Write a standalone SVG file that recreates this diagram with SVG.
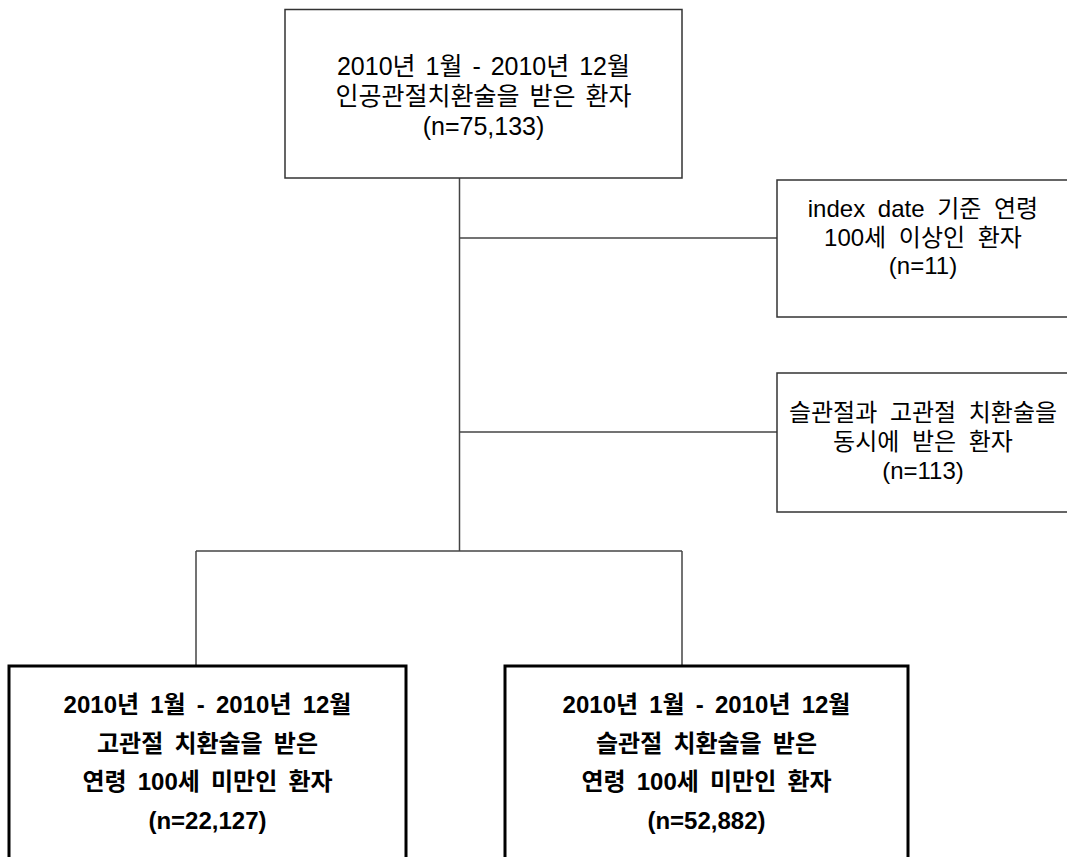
<svg xmlns="http://www.w3.org/2000/svg" width="1067" height="857" viewBox="0 0 1067 857">
<style>
.box{fill:#fff;stroke:#333;stroke-width:1.5}
.bold{fill:#fff;stroke:#000;stroke-width:3}
.conn{fill:none;stroke:#444;stroke-width:1.5}
text{font-family:"Liberation Sans","Noto Sans CJK KR",sans-serif;fill:#000;text-anchor:middle}
.t{font-size:25px;word-spacing:3px}
.s{font-size:24px;word-spacing:6px}
.b{font-size:24px;font-weight:bold;word-spacing:4.5px}
</style>
<rect width="1067" height="857" fill="#fff"/>
<g id="connectors">
<line class="conn" x1="459.5" y1="178" x2="459.5" y2="551"/>
<line class="conn" x1="459.5" y1="238" x2="777" y2="238"/>
<line class="conn" x1="459.5" y1="432" x2="777" y2="432"/>
<line class="conn" x1="196" y1="551" x2="682" y2="551"/>
<line class="conn" x1="196" y1="551" x2="196" y2="665"/>
<line class="conn" x1="682" y1="551" x2="682" y2="665"/>
</g>
<g id="top">
<rect class="box" x="285" y="9.5" width="397" height="168.5"/>
<text class="t" x="483.5" y="75">2010년 1월 - 2010년 12월</text>
<text class="t" x="483.5" y="105">인공관절치환술을 받은 환자</text>
<text class="t" x="483.5" y="135">(n=75,133)</text>
</g>
<g id="excl1">
<rect class="box" x="777" y="180" width="300" height="137"/>
<text class="s" x="923" y="217">index date 기준 연령</text>
<text class="s" x="923" y="246">100세 이상인 환자</text>
<text class="s" x="923" y="274">(n=11)</text>
</g>
<g id="excl2">
<rect class="box" x="777" y="373" width="300" height="139"/>
<text class="s" x="923" y="421">슬관절과 고관절 치환술을</text>
<text class="s" x="923" y="450">동시에 받은 환자</text>
<text class="s" x="923" y="479">(n=113)</text>
</g>
<g id="hip">
<rect class="bold" x="9" y="666" width="397" height="210"/>
<text class="b" x="207.5" y="713">2010년 1월 - 2010년 12월</text>
<text class="b" x="207.5" y="752">고관절 치환술을 받은</text>
<text class="b" x="207.5" y="790">연령 100세 미만인 환자</text>
<text class="b" x="207.5" y="829">(n=22,127)</text>
</g>
<g id="knee">
<rect class="bold" x="505" y="666" width="403" height="210"/>
<text class="b" x="706.5" y="713">2010년 1월 - 2010년 12월</text>
<text class="b" x="706.5" y="752">슬관절 치환술을 받은</text>
<text class="b" x="706.5" y="790">연령 100세 미만인 환자</text>
<text class="b" x="706.5" y="829">(n=52,882)</text>
</g>
</svg>
